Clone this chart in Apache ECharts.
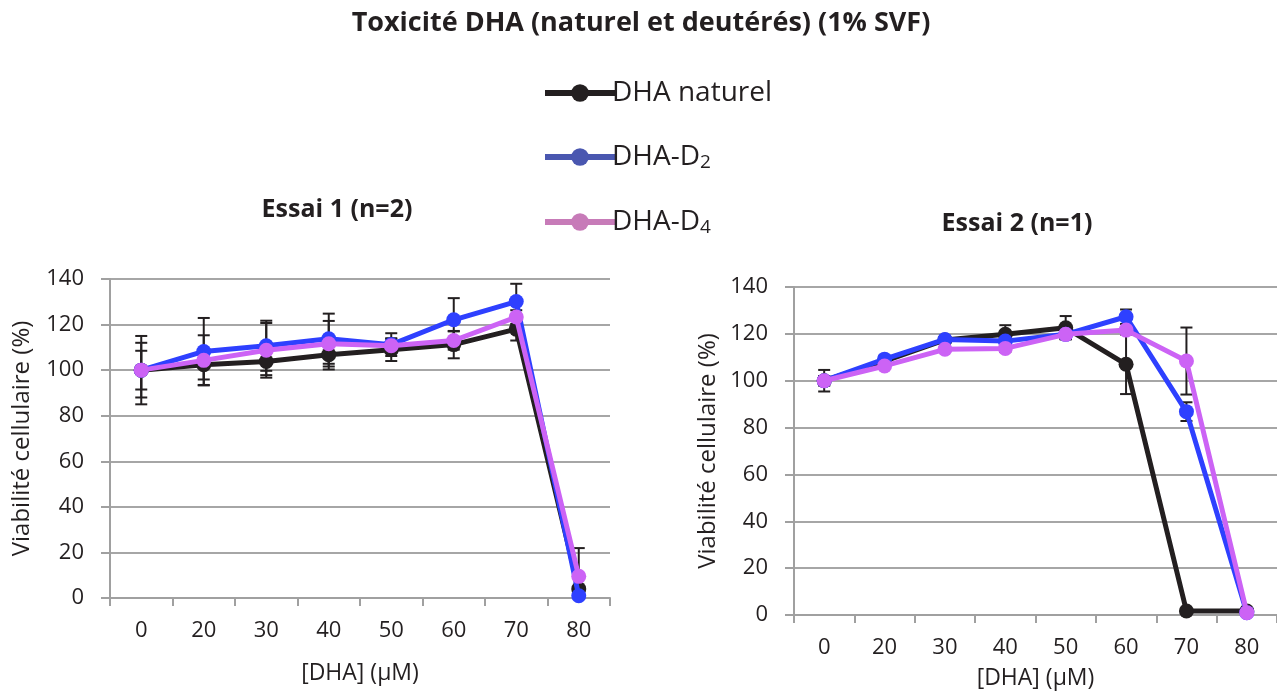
<!DOCTYPE html>
<html><head><meta charset="utf-8">
<script src="https://cdn.jsdelivr.net/npm/echarts@6/dist/echarts.min.js"></script>
<style>html,body{margin:0;padding:0;background:#fff}#c{width:1277px;height:691px}</style>
</head><body><div id="c"></div>
<script>
const categories = ['0','20','30','40','50','60','70','80'];
const yTicks = [0,20,40,60,80,100,120,140];
const seriesNames = ['DHA naturel','DHA-D2','DHA-D4'];

// Essai 1 (n=2)
const e1_naturel = [100, 102.4, 103.8, 106.8, 109.0, 111.2, 118.0, 4.0];
const e1_D2      = [100, 108.2, 110.7, 113.8, 111.2, 122.1, 130.1, 1.0];
const e1_D4      = [100, 104.3, 108.7, 111.6, 110.7, 113.0, 123.3, 9.5];
const e1_naturel_err = [8.5, 6.5, 6, 6.5, 5, 6, 5, 0];
const e1_D2_err      = [12, 14.7, 11, 11, 5, 9.5, 7.8, 0];
const e1_D4_err      = [15, 11, 12, 10, 3, 4, 3, 12.4];

// Essai 2 (n=1)
const e2_naturel = [100, 108.4, 117.4, 119.8, 122.6, 107.0, 1.7, 1.7];
const e2_D2      = [100, 109.2, 117.6, 116.9, 119.8, 127.3, 86.8, 1.0];
const e2_D4      = [100, 106.3, 113.4, 113.8, 119.8, 121.6, 108.4, 1.0];
const e2_naturel_err = [4.6, 1.5, 1, 3.9, 5, 12.7, 0, 0];
const e2_D2_err      = [2, 1.5, 1, 1.5, 2, 3.1, 4, 0];
const e2_D4_err      = [2, 1, 1, 1.5, 2, 1, 14.3, 0];

const colors = ['#231f20', '#2e40ff', '#cc63f5'];
const legendColors = ['#231f20', '#4a57b0', '#c77bb8'];
const FONT = '"Open Sans"';

function errData(vals, errs){
  return vals.map((v,i)=>[i, Math.max(0, v-errs[i]), v+errs[i]]);
}
function errSeries(vals, errs, idx){
  return {
    type:'custom', xAxisIndex:idx, yAxisIndex:idx, z:1, silent:true,
    data: errData(vals, errs),
    renderItem: function(params, api){
      const x = api.value(0);
      const lo = api.coord([x, api.value(1)]);
      const hi = api.coord([x, api.value(2)]);
      const hw = 6;
      const st = {stroke:'#231f20', lineWidth:2};
      return {type:'group', children:[
        {type:'line', shape:{x1:hi[0],y1:hi[1],x2:lo[0],y2:lo[1]}, style:st},
        {type:'line', shape:{x1:hi[0]-hw,y1:hi[1],x2:hi[0]+hw,y2:hi[1]}, style:st},
        {type:'line', shape:{x1:lo[0]-hw,y1:lo[1],x2:lo[0]+hw,y2:lo[1]}, style:st}
      ]};
    }
  };
}
function lineSeries(name, vals, idx, ci){
  return {
    name:name, type:'line', xAxisIndex:idx, yAxisIndex:idx, data:vals, z:2+ci,
    symbol:'circle', symbolSize:15, showSymbol:true,
    lineStyle:{width:5, color:colors[ci]}, itemStyle:{color:colors[ci]},
    emphasis:{disabled:true}
  };
}
function xAxisDef(idx, margin, nameGap){
  return {
    type:'category', gridIndex:idx, data:categories, boundaryGap:true,
    name:'[DHA] (µM)', nameLocation:'middle', nameGap:nameGap,
    nameTextStyle:{fontFamily:FONT, fontSize:23, color:'#231f20'},
    axisLine:{lineStyle:{color:'#a0a0a0', width:2}},
    axisTick:{show:true, length:8, inside:false, alignWithLabel:false, lineStyle:{color:'#a0a0a0', width:2}},
    axisLabel:{fontFamily:FONT, fontSize:22, color:'#231f20', margin:margin},
    splitLine:{show:false}
  };
}
function yAxisDef(idx, nameGap){
  return {
    type:'value', gridIndex:idx, min:0, max:140, interval:20,
    name:'Viabilité cellulaire (%)', nameLocation:'middle', nameGap:nameGap,
    nameTextStyle:{fontFamily:FONT, fontSize:24, color:'#231f20'},
    axisLine:{show:true, lineStyle:{color:'#a0a0a0', width:2}},
    axisTick:{show:true, length:9, lineStyle:{color:'#a0a0a0', width:2}},
    axisLabel:{fontFamily:FONT, fontSize:22, color:'#231f20', margin:26,
      formatter:function(v){ return yTicks.indexOf(v)>=0 ? String(v) : ''; }},
    splitLine:{show:true, lineStyle:{color:'#a6a6a6', width:2}}
  };
}

const chart = echarts.init(document.getElementById('c'), null, {renderer:'canvas'});
chart.setOption({
  animation:false,
  backgroundColor:'#ffffff',
  title:[
    {text:'Toxicité DHA (naturel et deutérés) (1% SVF)', left:636, top:5, textAlign:'center',
     textStyle:{fontFamily:FONT, fontWeight:'bold', fontSize:27, color:'#231f20'}},
    {text:'Essai 1 (n=2)', left:332, top:192, textAlign:'center',
     textStyle:{fontFamily:FONT, fontWeight:'bold', fontSize:25, color:'#231f20'}},
    {text:'Essai 2 (n=1)', left:1012, top:206, textAlign:'center',
     textStyle:{fontFamily:FONT, fontWeight:'bold', fontSize:25, color:'#231f20'}}
  ],
  legend:{
    orient:'vertical', left:537, top:74, itemGap:36, itemWidth:70, itemHeight:22,
    selectedMode:false,
    data: seriesNames.map((n,i)=>({name:n, itemStyle:{color:legendColors[i]}, lineStyle:{color:legendColors[i], width:6}})),
    formatter:function(name){
      if(name==='DHA-D2') return 'DHA-D{s|2}';
      if(name==='DHA-D4') return 'DHA-D{s|4}';
      return name;
    },
    textStyle:{fontFamily:FONT, fontSize:28, color:'#231f20', padding:[0,0,0,-8],
      rich:{s:{fontFamily:FONT, fontSize:19, color:'#231f20', padding:[11,0,0,0]}}}
  },
  grid:[
    {left:110, top:279, width:500, height:319, containLabel:false},
    {left:794, top:287, width:483, height:330, containLabel:false}
  ],
  xAxis:[xAxisDef(0, 22, 64), xAxisDef(1, 22, 52)],
  yAxis:[yAxisDef(0, 76), yAxisDef(1, 74)],
  series:[
    errSeries(e1_naturel, e1_naturel_err, 0),
    errSeries(e1_D2, e1_D2_err, 0),
    errSeries(e1_D4, e1_D4_err, 0),
    lineSeries(seriesNames[0], e1_naturel, 0, 0),
    lineSeries(seriesNames[1], e1_D2, 0, 1),
    lineSeries(seriesNames[2], e1_D4, 0, 2),
    errSeries(e2_naturel, e2_naturel_err, 1),
    errSeries(e2_D2, e2_D2_err, 1),
    errSeries(e2_D4, e2_D4_err, 1),
    lineSeries(seriesNames[0], e2_naturel, 1, 0),
    lineSeries(seriesNames[1], e2_D2, 1, 1),
    lineSeries(seriesNames[2], e2_D4, 1, 2)
  ]
});
</script></body></html>
